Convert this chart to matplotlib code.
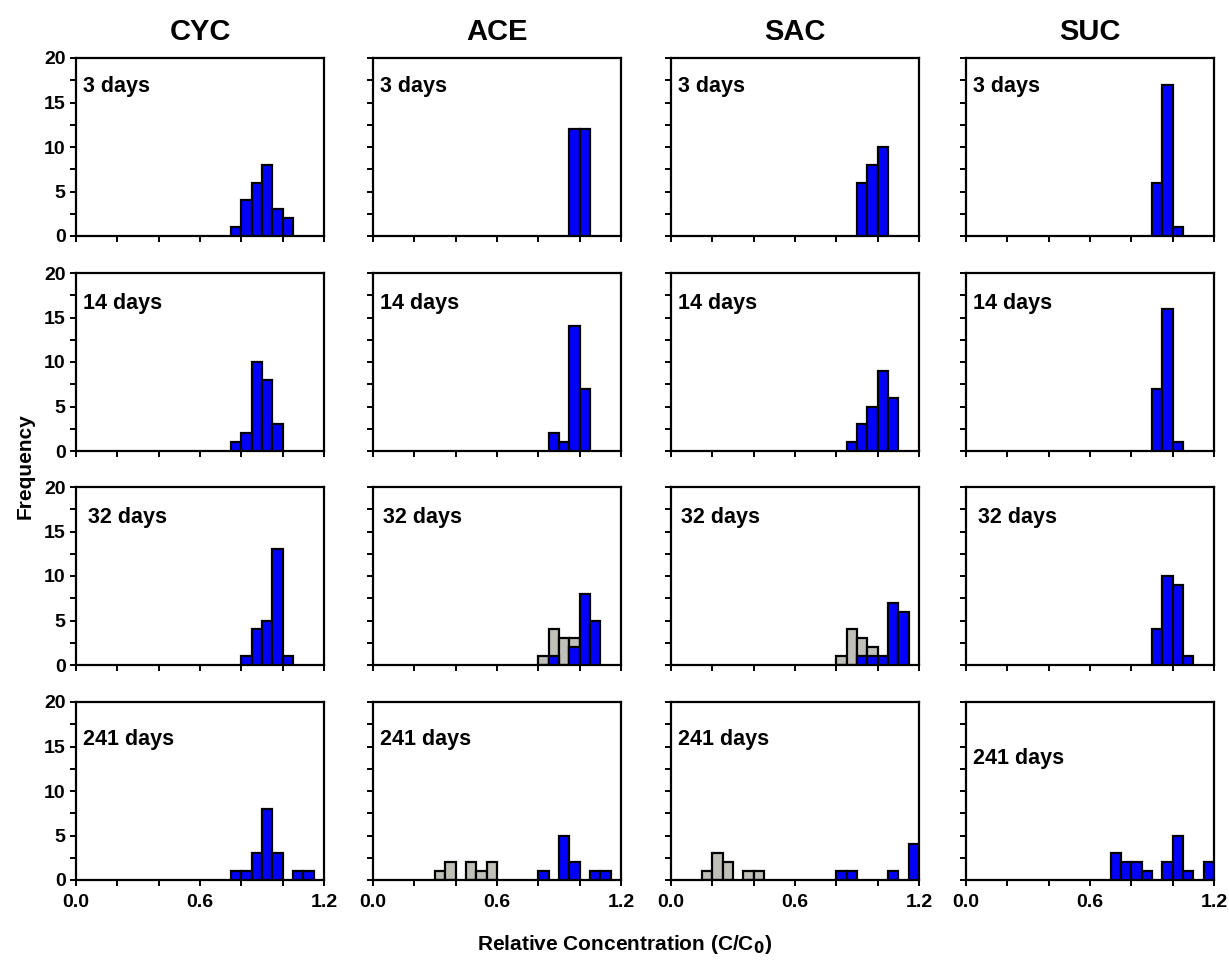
import matplotlib
matplotlib.use("Agg")
import matplotlib.pyplot as plt
from matplotlib.ticker import MultipleLocator, FuncFormatter

plt.rcParams["font.family"] = ["Liberation Sans", "DejaVu Sans"]
plt.rcParams["font.weight"] = "bold"

COMPOUNDS = ["CYC", "ACE", "SAC", "SUC"]
TIMES = ["3 days", "14 days", "32 days", "241 days"]
BIN_WIDTH = 0.05

# left edge of each bin and its count, per sampling time
CYC_BLUE = [
    ([0.75, 0.80, 0.85, 0.90, 0.95, 1.00], [1, 4, 6, 8, 3, 2]),
    ([0.75, 0.80, 0.85, 0.90, 0.95], [1, 2, 10, 8, 3]),
    ([0.80, 0.85, 0.90, 0.95, 1.00], [1, 4, 5, 13, 1]),
    ([0.75, 0.80, 0.85, 0.90, 0.95, 1.05, 1.10], [1, 1, 3, 8, 3, 1, 1]),
]
ACE_BLUE = [
    ([0.95, 1.00], [12, 12]),
    ([0.85, 0.90, 0.95, 1.00], [2, 1, 14, 7]),
    ([0.85, 0.95, 1.00, 1.05], [1, 2, 8, 5]),
    ([0.80, 0.90, 0.95, 1.05, 1.10], [1, 5, 2, 1, 1]),
]
SAC_BLUE = [
    ([0.90, 0.95, 1.00], [6, 8, 10]),
    ([0.85, 0.90, 0.95, 1.00, 1.05], [1, 3, 5, 9, 6]),
    ([0.90, 0.95, 1.00, 1.05, 1.10], [1, 1, 1, 7, 6]),
    ([0.80, 0.85, 1.05, 1.15], [1, 1, 1, 4]),
]
SUC_BLUE = [
    ([0.90, 0.95, 1.00], [6, 17, 1]),
    ([0.90, 0.95, 1.00], [7, 16, 1]),
    ([0.90, 0.95, 1.00, 1.05], [4, 10, 9, 1]),
    ([0.70, 0.75, 0.80, 0.85, 0.95, 1.00, 1.05, 1.15], [3, 2, 2, 1, 2, 5, 1, 2]),
]
# grey bars (second population) only appear for ACE and SAC
ACE_GREY = [
    ([], []),
    ([], []),
    ([0.80, 0.85, 0.90, 0.95], [1, 4, 3, 3]),
    ([0.30, 0.35, 0.45, 0.50, 0.55], [1, 2, 2, 1, 2]),
]
SAC_GREY = [
    ([], []),
    ([], []),
    ([0.80, 0.85, 0.90, 0.95], [1, 4, 3, 2]),
    ([0.15, 0.20, 0.25, 0.35, 0.40], [1, 3, 2, 1, 1]),
]
NO_GREY = [([], [])] * 4

BLUE = {"CYC": CYC_BLUE, "ACE": ACE_BLUE, "SAC": SAC_BLUE, "SUC": SUC_BLUE}
GREY = {"CYC": NO_GREY, "ACE": ACE_GREY, "SAC": SAC_GREY, "SUC": NO_GREY}

W, H = 1229, 961
fig = plt.figure(figsize=(W / 100, H / 100), dpi=100)

col_left = [76, 373, 671, 966]
row_top = [58, 273, 487, 702]
ax_w, ax_h = 248, 178

# panel label placement (axes fraction), a few sit slightly off the rest
label_y = [0.84, 0.83, 0.83, 0.79]
label_nudge = {("CYC", 2): (0.02, 0), ("ACE", 2): (0.01, 0), ("SAC", 2): (0.01, 0),
               ("SUC", 2): (0.02, 0), ("SUC", 3): (0.0, -0.11)}

bar_kw = dict(width=BIN_WIDTH, align="edge", edgecolor="black", linewidth=1.6)

for c, comp in enumerate(COMPOUNDS):
    for r, label in enumerate(TIMES):
        ax = fig.add_axes([col_left[c] / W, 1 - (row_top[r] + ax_h) / H, ax_w / W, ax_h / H])
        gx, gy = GREY[comp][r]
        if gx:
            ax.bar(gx, gy, color="#c0c0b8", zorder=2, **bar_kw)
        bx, by = BLUE[comp][r]
        ax.bar(bx, by, color="#0000ff", zorder=3, **bar_kw)

        ax.set_xlim(0, 1.2)
        ax.set_ylim(0, 20)
        ax.xaxis.set_major_locator(MultipleLocator(0.2))
        ax.yaxis.set_major_locator(MultipleLocator(2.5))
        for s in ax.spines.values():
            s.set_linewidth(1.6)
        ax.tick_params(direction="out", length=4, width=1.4, labelsize=14)
        ax.tick_params(axis="x", pad=6)

        if c == 0:
            ax.yaxis.set_major_formatter(
                FuncFormatter(lambda v, p: f"{v:.0f}" if v % 5 == 0 else "")
            )
        else:
            ax.set_yticklabels([])
        if r == 3:
            ax.xaxis.set_major_formatter(
                FuncFormatter(lambda v, p: f"{v:.1f}" if round(v * 10) % 6 == 0 else "")
            )
        else:
            ax.set_xticklabels([])

        dx, dy = label_nudge.get((comp, r), (0, 0))
        ax.text(0.03 + dx, label_y[r] + dy, label, transform=ax.transAxes, fontsize=15.5,
                fontweight="bold", va="center", ha="left")

        if r == 0:
            ax.set_title(comp, fontsize=21, fontweight="bold", pad=13)

fig.text(25 / W, 1 - 466 / H, "Frequency", rotation=90, fontsize=15,
         fontweight="bold", ha="center", va="center")
fig.text(625 / W, 1 - 945 / H, "Relative Concentration (C/C$_\\mathbf{0}$)",
         fontsize=15, fontweight="bold", ha="center", va="center")

fig.savefig("out.png", dpi=100)
